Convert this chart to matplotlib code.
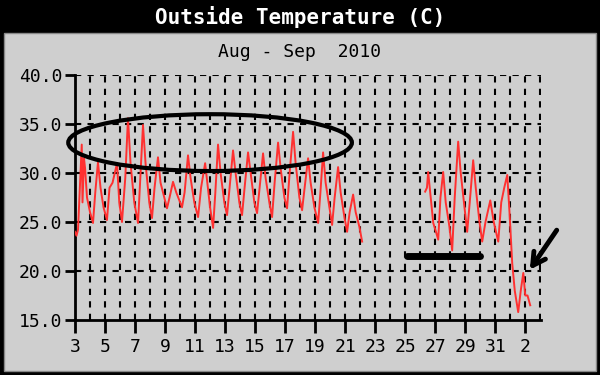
import numpy as np
import matplotlib
matplotlib.use("Agg")
import matplotlib.pyplot as plt
from matplotlib.patches import Rectangle, Ellipse

# day of August (Sep 1 = 32, Sep 2 = 33) and temperature in C
days_a = [3.0, 3.1, 3.2, 3.45, 3.5, 3.6, 3.67, 3.8, 4.0, 4.2, 4.35, 4.53, 4.7, 4.9,
          5.13, 5.3, 5.5, 5.8, 5.95, 6.13, 6.35, 6.53, 6.7, 6.95, 7.2, 7.35, 7.53,
          7.7, 7.95, 8.13, 8.3, 8.53, 8.7, 8.95, 9.13, 9.3, 9.53, 9.75, 10.13, 10.3,
          10.53, 10.7, 10.95, 11.2, 11.4, 11.67, 11.85, 12.0, 12.2, 12.35, 12.53,
          12.7, 12.95, 13.13, 13.3, 13.53, 13.7, 13.95, 14.13, 14.3, 14.53, 14.7,
          14.95, 15.13, 15.3, 15.53, 15.7, 15.95, 16.13, 16.3, 16.53, 16.7, 16.95,
          17.13, 17.3, 17.53, 17.7, 17.95, 18.13, 18.3, 18.53, 18.7, 18.95, 19.2,
          19.35, 19.53, 19.7, 19.95, 20.13, 20.3, 20.53, 20.7, 20.95, 21.13, 21.3,
          21.53, 21.7, 21.95, 22.13]
temp_a = [24.0, 23.6, 24.2, 32.9, 27.0, 31.5, 30.5, 27.5, 26.0, 24.9, 28.0, 31.1,
          28.5, 26.5, 25.2, 28.5, 29.0, 31.0, 27.0, 25.0, 29.5, 35.6, 31.0, 27.0,
          24.9, 29.5, 34.9, 31.0, 27.0, 25.4, 28.5, 31.6, 29.0, 27.5, 26.4, 27.5,
          29.1, 28.0, 26.5, 28.0, 31.8, 29.5, 27.0, 25.5, 28.5, 31.0, 28.5, 26.5,
          24.4, 28.0, 32.9, 30.0, 27.0, 25.7, 28.5, 32.3, 30.0, 27.0, 25.7, 28.5,
          32.1, 30.0, 27.0, 25.9, 28.5, 32.0, 29.5, 27.0, 25.5, 29.0, 33.1, 30.5,
          27.5, 26.4, 30.0, 34.2, 31.0, 27.5, 26.2, 28.5, 31.5, 29.0, 26.5, 24.9,
          28.0, 32.1, 29.0, 26.5, 24.7, 27.5, 30.6, 28.0, 25.5, 24.0, 26.0, 27.8,
          26.0, 24.5, 23.0]
days_b = [26.33, 26.45, 26.53, 26.7, 26.87, 27.05, 27.2, 27.35, 27.53, 27.7, 27.95,
          28.13, 28.3, 28.53, 28.7, 28.95, 29.13, 29.3, 29.53, 29.7, 29.95, 30.13,
          30.35, 30.67, 30.9, 31.2, 31.4, 31.6, 31.8, 31.95, 32.13, 32.3, 32.53,
          32.7, 32.87, 33.0, 33.15, 33.33]
temp_b = [28.1, 28.5, 30.1, 27.5, 24.9, 24.0, 23.2, 27.5, 30.1, 27.0, 24.5, 22.1,
          27.5, 33.2, 30.0, 26.5, 24.0, 27.0, 31.3, 28.5, 25.0, 23.0, 25.0, 27.2,
          25.0, 23.0, 27.0, 28.5, 29.8, 26.0, 20.8, 18.0, 15.8, 18.0, 19.8, 17.5,
          17.5, 16.5]

tick_days = [3, 5, 7, 9, 11, 13, 15, 17, 19, 21, 23, 25, 27, 29, 31, 33]
tick_labels = ["3", "5", "7", "9", "11", "13", "15", "17", "19", "21", "23", "25",
               "27", "29", "31", "2"]
y_ticks = [15, 20, 25, 30, 35, 40]

mono = "DejaVu Sans Mono"

fig = plt.figure(figsize=(6, 3.75), dpi=100, facecolor="black")
fig.patches.append(Rectangle((0.007, 0.011), 0.986, 0.901, transform=fig.transFigure,
                             facecolor="#cfcfcf", edgecolor="#888888", lw=1, zorder=-10))
fig.text(0.5, 0.955, "Outside Temperature (C)", color="white", ha="center", va="center",
         family=mono, fontsize=15, fontweight="bold")
fig.text(0.5, 0.861, "Aug - Sep  2010", color="black", ha="center", va="center",
         family=mono, fontsize=13)

ax = fig.add_axes([0.125, 0.1467, 0.7767, 0.6533])
ax.patch.set_alpha(0)

days = days_a + [np.nan] + days_b
temps = temp_a + [np.nan] + temp_b
ax.plot(days, temps, color="#ff3030", lw=1.4, zorder=3)

ax.set_xlim(3, 34.05)
ax.set_ylim(15, 40)
ax.set_xticks(tick_days)
ax.set_xticklabels(tick_labels)
ax.set_yticks(y_ticks)
ax.set_yticklabels(["%.1f" % v for v in y_ticks])
ax.tick_params(axis="x", which="major", direction="out", length=9, width=2,
               labelsize=13, pad=4)
ax.tick_params(axis="y", which="major", direction="out", length=7, width=2,
               labelsize=13, pad=2)
for lab in ax.get_xticklabels() + ax.get_yticklabels():
    lab.set_family(mono)

for d in range(4, 35):
    ax.axvline(d, color="black", lw=1.5, ls=(0, (3, 3)), zorder=1)
for v in y_ticks[1:]:
    ax.axhline(v, color="black", lw=1.5, ls=(0, (3, 3)), zorder=1)

for side in ["top", "right"]:
    ax.spines[side].set_visible(False)
for side in ["left", "bottom"]:
    ax.spines[side].set_linewidth(2)

# hand drawn marks on the picture
ax.add_patch(Ellipse((12.0, 33.1), 18.9, 5.8, fill=False, edgecolor="black", lw=3,
                     clip_on=False, zorder=4))
ax.plot([25.1, 30.0], [21.5, 21.5], color="black", lw=5, solid_capstyle="round",
        zorder=4)
ax.annotate("", xy=(33.2, 19.9), xytext=(35.2, 24.4), annotation_clip=False,
            arrowprops=dict(arrowstyle="->,head_length=0.9,head_width=0.5",
                            color="black", lw=3.5))

fig.savefig("out.png", dpi=100, facecolor="black")
